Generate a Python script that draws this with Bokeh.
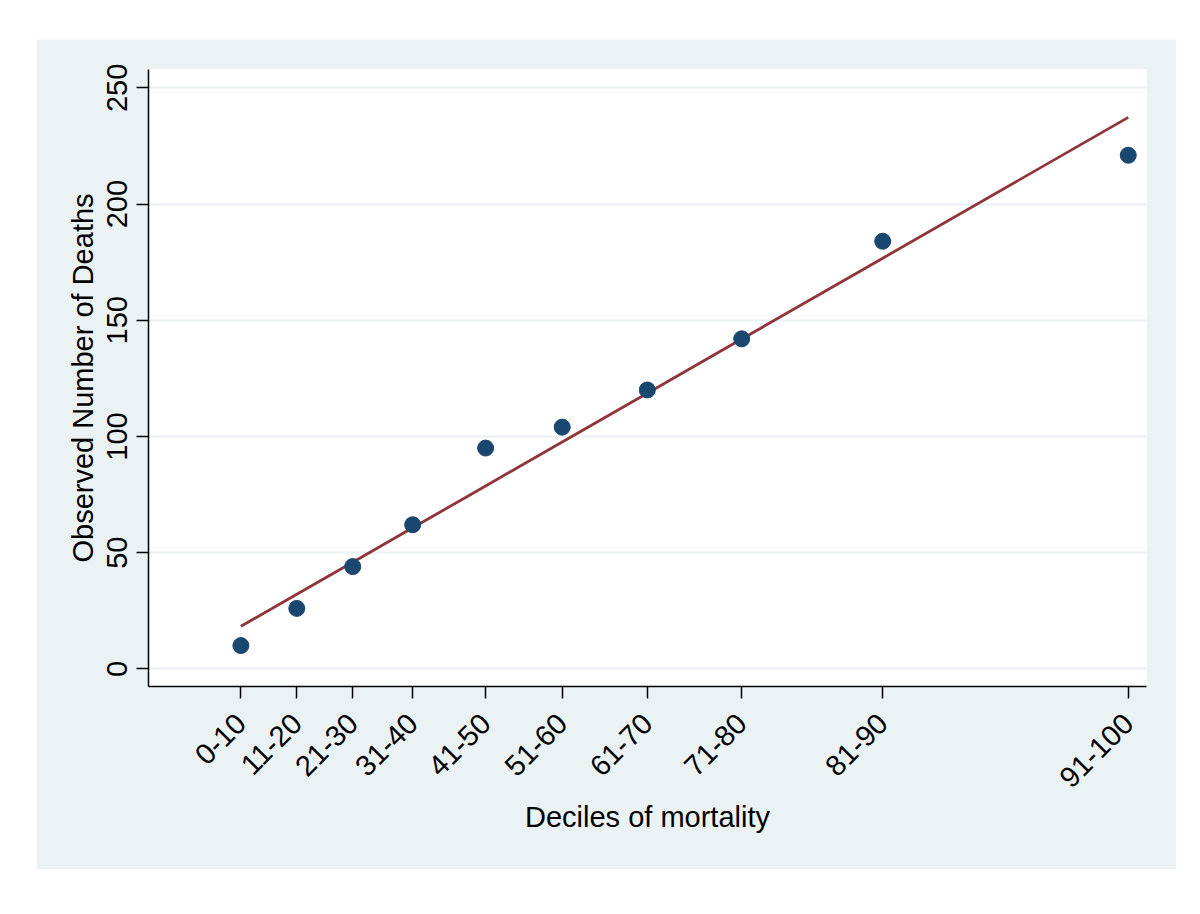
import math
from bokeh.plotting import figure
from bokeh.models import Range1d, FixedTicker, Spacer
from bokeh.layouts import column, row
from bokeh.embed import file_html
from bokeh.resources import INLINE

# Data
deciles = ["0-10", "11-20", "21-30", "31-40", "41-50", "51-60", "61-70", "71-80", "81-90", "91-100"]
expected = [18.3, 32.1, 45.9, 60.7, 78.7, 97.6, 118.6, 141.9, 176.7, 237.3]
observed = [10, 26, 44, 62, 95, 104, 120, 142, 184, 221]
y_ticks = [0, 50, 100, 150, 200, 250]

BG = "#EAF2F3"
FONT = "Liberation Sans"

p = figure(width=1140, height=830, output_backend="svg", toolbar_location=None,
           x_range=Range1d(-4.5, 241.8), y_range=Range1d(-7.6, 257.9),
           min_border_left=112, min_border_right=30, min_border_top=30, min_border_bottom=183)
p.border_fill_color = BG
p.background_fill_color = "white"
p.outline_line_color = None

# grid
p.xgrid.grid_line_color = None
p.ygrid.grid_line_color = BG
p.ygrid.grid_line_width = 2
p.ygrid.ticker = FixedTicker(ticks=y_ticks)

# axes
p.yaxis.ticker = FixedTicker(ticks=y_ticks)
p.xaxis.ticker = FixedTicker(ticks=expected)
p.xaxis.major_label_overrides = {e: d for e, d in zip(expected, deciles)}
p.xaxis.major_label_orientation = math.pi / 4
p.yaxis.major_label_orientation = "vertical"

for ax in (p.xaxis[0], p.yaxis[0]):
    ax.axis_line_color = "black"
    ax.axis_line_width = 1.5
    ax.major_tick_line_color = "black"
    ax.major_tick_line_width = 1.5
    ax.major_tick_in = 0
    ax.major_tick_out = 12
    ax.minor_tick_line_color = None
    ax.major_label_text_font = FONT
    ax.major_label_text_font_size = "29px"
    ax.major_label_text_color = "black"
    ax.axis_label_text_font = FONT
    ax.axis_label_text_font_size = "29px"
    ax.axis_label_text_font_style = "normal"
    ax.axis_label_text_color = "black"

p.xaxis.axis_label = "Deciles of mortality"
p.yaxis.axis_label = "Observed Number of Deaths"
p.xaxis.major_label_standoff = 20
p.yaxis.major_label_standoff = 9
p.xaxis.axis_label_standoff = 2
p.yaxis.axis_label_standoff = 6

# fitted line (expected = observed)
p.line(expected, expected, line_color="#90353b", line_width=2.8)
# points
p.scatter(expected, observed, size=16, fill_color="#1a476f", line_color="#1a476f")

layout = column(Spacer(height=39), row(Spacer(width=36), p))

open("out.html", "w").write(file_html(layout, INLINE))
